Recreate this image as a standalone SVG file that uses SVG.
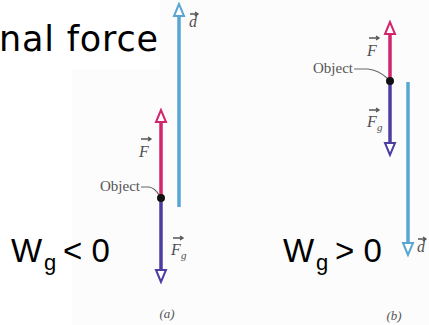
<svg xmlns="http://www.w3.org/2000/svg" width="429" height="325" viewBox="0 0 429 325">
<style>
.bg{fill:#fcfcfc}
.big{font-family:"DejaVu Sans",Verdana,sans-serif;font-size:35px;letter-spacing:0.8px;fill:#000}
.w{font-family:"Liberation Sans",Arial,sans-serif;font-size:33px;fill:#000}
.sub{font-size:22px}
.lbl{font-family:"Liberation Serif","Times New Roman",serif;font-style:italic;font-size:16px;fill:#505050}
.lsub{font-size:11px}
.obj{font-family:"Liberation Serif","Times New Roman",serif;font-size:15px;fill:#555}
.cap{font-family:"Liberation Serif","Times New Roman",serif;font-style:italic;font-size:13px;fill:#555}
.vbar{stroke:#555;stroke-width:1.3;fill:none}
.head{fill:#fff;stroke-width:2;stroke-linejoin:miter}
.lead{stroke:#666;stroke-width:1.1;fill:none}
.d{stroke:#5aa6d2}
.f{stroke:#d3246e}
.fg{stroke:#4b3ea3}
.shaft{stroke-width:3.5}
</style>
<rect class="bg" x="72" y="70" width="357" height="255"/>
<rect class="bg" x="160" y="0" width="269" height="70"/>
<text class="big" x="-1" y="51">nal force</text>

<g id="connectors">
  <line class="shaft d" x1="179" y1="207" x2="179" y2="15"/>
  <polygon class="head d" points="179,4 174,16 184,16"/>
  <line class="shaft f" x1="161" y1="198" x2="161" y2="121"/>
  <polygon class="head f" points="161,110 156,122 166,122"/>
  <line class="shaft fg" x1="161" y1="198" x2="161" y2="271"/>
  <polygon class="head fg" points="161,282 156,270 166,270"/>
  <line class="shaft f" x1="390" y1="81" x2="390" y2="33"/>
  <polygon class="head f" points="390,22 385,34 395,34"/>
  <line class="shaft fg" x1="390" y1="81" x2="390" y2="144"/>
  <polygon class="head fg" points="390,155 385,143 395,143"/>
  <line class="shaft d" x1="408" y1="82" x2="408" y2="244"/>
  <polygon class="head d" points="408,255 403,243 413,243"/>
  <path class="lead" d="M141,187 L149,187 Q155,188 159,195"/>
  <path class="lead" d="M354,69 L368,69 Q378,70 387,78"/>
</g>

<g id="objA">
  <circle cx="161" cy="198" r="4" fill="#111"/>
  <text class="obj" x="140" y="191" text-anchor="end">Object</text>
</g>
<g id="objB">
  <circle cx="390" cy="81" r="4" fill="#111"/>
  <text class="obj" x="353" y="73" text-anchor="end">Object</text>
</g>

<g id="labelsA">
  <text class="lbl" x="139" y="157">F</text>
  <path class="vbar" d="M141,139 H151 M148,137 L151,139 L148,141"/>
  <text class="lbl" x="171" y="255">F</text>
  <text class="lbl lsub" x="181" y="259">g</text>
  <path class="vbar" d="M173,238 H183 M180,236 L183,238 L180,240"/>
  <text class="lbl" x="189" y="27">d</text>
  <path class="vbar" d="M190,14 H198 M195,12 L198,14 L195,16"/>
  <text class="cap" x="167" y="318" text-anchor="middle">(a)</text>
</g>
<g id="labelsB">
  <text class="lbl" x="367" y="56">F</text>
  <path class="vbar" d="M369,38 H379 M376,36 L379,38 L376,40"/>
  <text class="lbl" x="367" y="127">F</text>
  <text class="lbl lsub" x="377" y="131">g</text>
  <path class="vbar" d="M369,110 H379 M376,108 L379,110 L376,112"/>
  <text class="lbl" x="417" y="252">d</text>
  <path class="vbar" d="M418,239 H426 M423,237 L426,239 L423,241"/>
  <text class="cap" x="394" y="320" text-anchor="middle">(b)</text>
</g>

<g id="wA">
  <text class="w"><tspan x="11" y="262">W</tspan><tspan class="sub" x="44" y="270">g</tspan><tspan x="63" y="262">&lt; 0</tspan></text>
</g>
<g id="wB">
  <text class="w"><tspan x="283" y="262">W</tspan><tspan class="sub" x="316" y="270">g</tspan><tspan x="335" y="262">&gt; 0</tspan></text>
</g>
</svg>
